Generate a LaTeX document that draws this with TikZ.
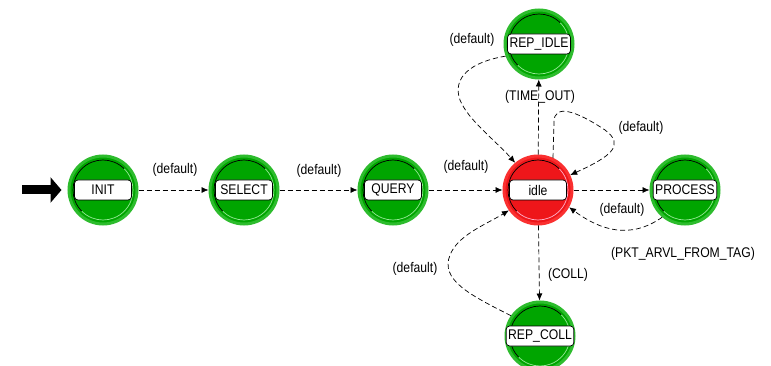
\documentclass[tikz,border=0pt]{standalone}
\usepackage{fontspec}
\setmainfont{Liberation Sans}
\newfontfamily\uifont[FakeStretch=0.87]{Liberation Sans}
\usetikzlibrary{arrows.meta}

\definecolor{stgreen}{RGB}{0,165,0}
\definecolor{stgreenring}{RGB}{45,188,45}
\definecolor{stgreenhi}{RGB}{150,232,150}
\definecolor{stred}{RGB}{238,22,26}
\definecolor{stredring}{RGB}{250,48,48}
\definecolor{stredhi}{RGB}{255,175,200}

\tikzset{
  state/.style={circle, minimum size=68pt, inner sep=0pt, line width=3pt},
  bevel/.style 2 args={path picture={
      \draw[line width=.7pt,#1] (path picture bounding box.center) ++(45:30pt)
        arc[start angle=45,end angle=225,radius=30pt];
      \draw[line width=.7pt,#2] (path picture bounding box.center) ++(225:30pt)
        arc[start angle=225,end angle=405,radius=30pt];}},
  greenstate/.style={state, fill=stgreen, draw=stgreenring, bevel={black}{stgreenhi}},
  redstate/.style={state, fill=stred, draw=stredring, bevel={black}{stredhi}},
  statelabel/.style={draw=black, line width=.7pt, fill=white, rounded corners=3.5pt,
    minimum width=57pt, minimum height=20pt, inner xsep=2pt, inner ysep=1pt,
    font=\uifont\fontsize{14}{16}\selectfont},
  elabel/.style={font=\uifont\fontsize{14}{16}\selectfont, inner sep=0pt},
  trans/.style={line width=.7pt, dash pattern=on 5pt off 3pt,
    -{Latex[length=7pt,width=6pt]}},
  entry/.style={line width=9pt, -{Triangle[length=11pt,width=25pt]}},
}

\begin{document}
\begin{tikzpicture}[x=1pt,y=-1pt]
  \fill[white] (0,0) rectangle (771,366);
  \useasboundingbox (0,0) rectangle (771,366);

  % states
  \node[greenstate] (init)    at (103,190) {};
  \node[greenstate] (select)  at (244,190) {};
  \node[greenstate] (query)   at (393,190) {};
  \node[redstate]   (idle)    at (538,190) {};
  \node[greenstate] (process) at (685,190) {};
  \node[greenstate] (repidle) at (539,44)  {};
  \node[greenstate] (repcoll) at (540,336) {};

  % state names
  \node[statelabel] (initname)    at (init)    {INIT};
  \node[statelabel] (selectname)  at (select)  {SELECT};
  \node[statelabel] (queryname)   at (query)   {QUERY};
  \node[statelabel] (idlename)    at (idle)    {idle};
  \node[statelabel] (processname) at (process) {PROCESS};
  \node[statelabel] (repidlename) at (repidle) {REP\_IDLE};
  \node[statelabel] (repcollname) at (repcoll) {REP\_COLL};

  % initial-state marker
  \coordinate (entrystart) at (22,190);
  \draw[entry, shorten >=6pt] (entrystart) -- (init.west);

  % straight transitions
  \draw[trans] (init) -- (select);
  \draw[trans] (select) -- (query);
  \draw[trans] (query) -- (idle);
  \draw[trans] (idle) -- (process);
  \draw[trans] (idle) -- (repidle);
  \draw[trans] (idle) -- (repcoll);

  % curved transitions
  \draw[trans] (process.230) .. controls (630,240) and (600,230) .. (idle.331);
  \draw[trans] (idle.65) -- (554,122) .. controls (554,104) and (575,110) .. (605,130)
                .. controls (625,145) and (612,156) .. (idle.25);
  \draw[trans] (repidle.200) .. controls (470,62) and (452,78) .. (460,100)
                .. controls (468,120) and (495,140) .. (idle.130);
  \draw[trans] (repcoll.145) .. controls (470,295) and (440,280) .. (450,255)
                .. controls (458,235) and (485,225) .. (idle.215);

  % transition labels
  \node[elabel] (t1)  at (175,170) {(default)};
  \node[elabel] (t2)  at (319,171) {(default)};
  \node[elabel] (t3)  at (466,167) {(default)};
  \node[elabel] (t4)  at (683,254) {(PKT\_ARVL\_FROM\_TAG)};
  \node[elabel] (t5)  at (622,210) {(default)};
  \node[elabel] (t6)  at (641,128) {(default)};
  \node[elabel] (t7)  at (540,97)  {(TIME\_OUT)};
  \node[elabel] (t8)  at (472,40)  {(default)};
  \node[elabel] (t9)  at (568,275) {(COLL)};
  \node[elabel] (t10) at (415,269) {(default)};
\end{tikzpicture}
\end{document}
